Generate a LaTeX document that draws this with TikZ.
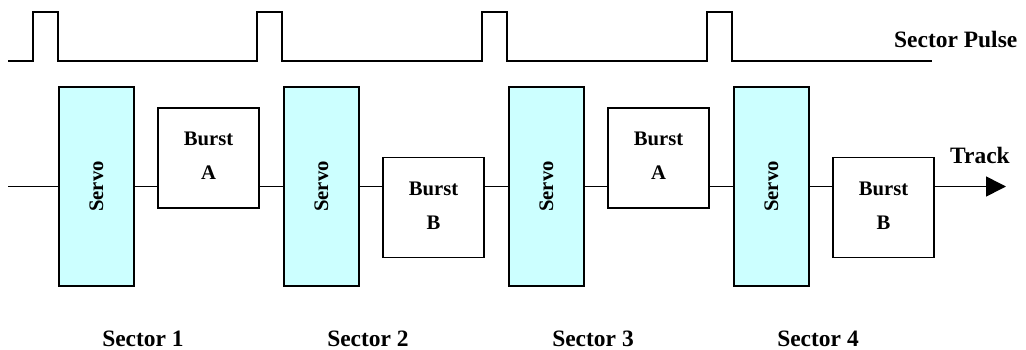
\documentclass[tikz,border=0pt]{standalone}
\usepackage{fontspec}
\setmainfont{Liberation Serif}
\usetikzlibrary{arrows.meta, positioning}
\definecolor{servocyan}{HTML}{CCFFFF}

\begin{document}
\begin{tikzpicture}[
            x=0.75pt, y=-0.75pt,
            pulse line/.style={line width=1.5pt, line join=miter},
            track line/.style={line width=1.2pt},
            servo box/.style={draw, line width=1.4pt, fill=servocyan, minimum width=56.25pt, minimum height=149.25pt, inner sep=0pt, font=\fontsize{15.5}{18}\selectfont\bfseries},
            burst box/.style={draw, line width=1.4pt, fill=white, minimum width=75.75pt, minimum height=75pt, inner sep=0pt, align=center, font=\fontsize{15.5}{25.5}\selectfont\bfseries},
            sector label/.style={font=\fontsize{17.6}{20}\selectfont\bfseries, anchor=base},
        ]

        % Frame
        \useasboundingbox (0,0) rectangle (1026,350);

        % Sector Pulse waveform
        \draw[pulse line] (8,61)
            \foreach \x in {33,257,482,707} { -- (\x,61) -- (\x,12) -- ({\x+25},12) -- ({\x+25},61) }
            -- (932,61);
        \node[font=\fontsize{17.6}{20}\selectfont\bfseries, anchor=base east] (pulse label) at (1022,47) {Sector Pulse};

        % Servo and Burst fields
        \foreach \i/\b/\y in {1/A/158, 2/B/207.5, 3/A/158, 4/B/207.5} {
            \node[servo box] (servo\i) at ({96.5+225*(\i-1)},186.5) {\rotatebox{90}{Servo}};
            \node[burst box] (burst\i) at ({208.5+225*(\i-1)},\y) {\raisebox{3pt}{Burst}\\\raisebox{3pt}{\b}};
            \node[sector label] (sector\i) at ({143+225*(\i-1)},346) {Sector \i};
        }

        % Track
        \coordinate (track start) at (8,186.5);
        \coordinate (track end) at (1006,186.5);
        \draw[track line] (track start) -- (servo1.west);
        \foreach \i in {1,...,4} {
            \draw[track line] (servo\i.east) -- (servo\i.east -| burst\i.west);
        }
        \foreach \i/\j in {1/2, 2/3, 3/4} {
            \draw[track line] (servo\j.west -| burst\i.east) -- (servo\j.west);
        }
        \draw[track line, -{Triangle[length=15pt, width=15pt]}] (servo4.east -| burst4.east) -- (track end);
        \node[sector label] (track label) at (980,163) {Track};

\end{tikzpicture}
\end{document}
